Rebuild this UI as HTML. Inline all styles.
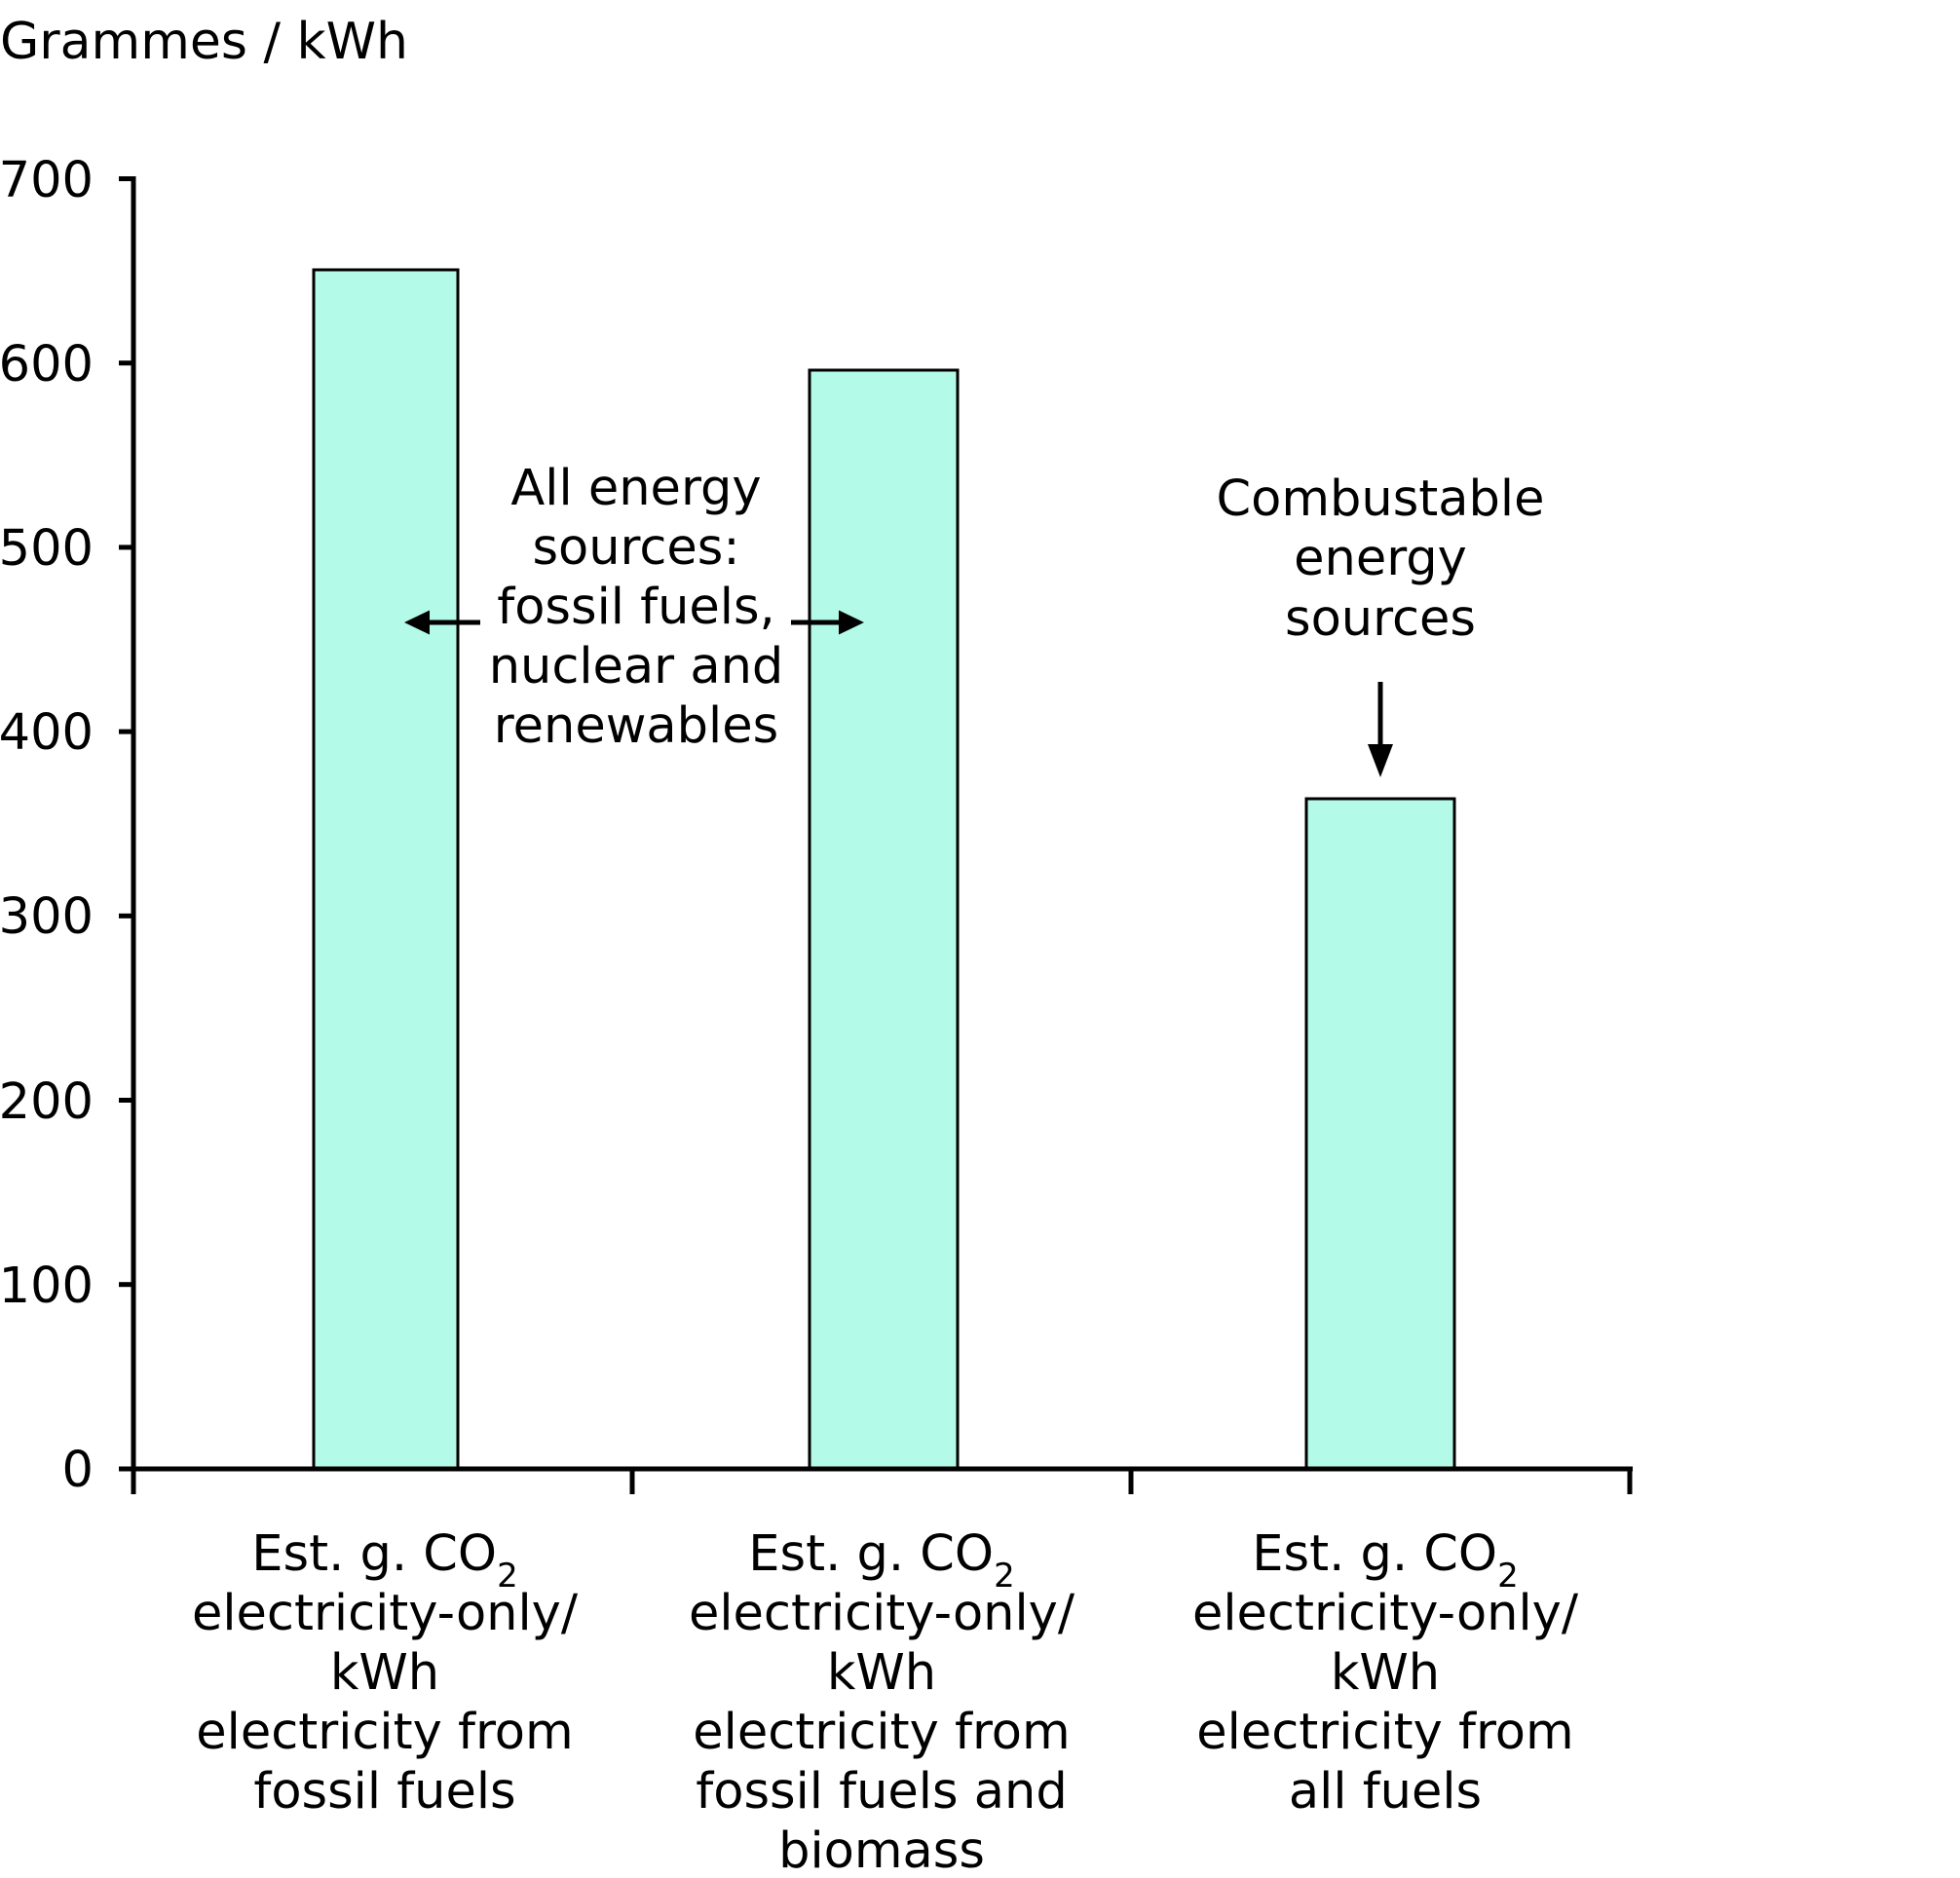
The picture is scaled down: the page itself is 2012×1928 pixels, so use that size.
<!DOCTYPE html>
<html>
<head>
<meta charset="utf-8">
<style>
html,body{margin:0;padding:0;background:#fff;}
svg{display:block;}
text{font-family:"DejaVu Sans","Liberation Sans",sans-serif;fill:#000;}
</style>
</head>
<body>
<svg width="2012" height="1928" viewBox="0 0 2012 1928" xmlns="http://www.w3.org/2000/svg">
<rect x="0" y="0" width="2012" height="1928" fill="#fff"/>
<text x="0" y="60" font-size="52">Grammes / kWh</text>

<!-- bars -->
<rect x="322" y="277" width="148" height="1231" fill="#b3fbe8" stroke="#000" stroke-width="3"/>
<rect x="831" y="380" width="152" height="1128" fill="#b3fbe8" stroke="#000" stroke-width="3"/>
<rect x="1341" y="820" width="152" height="688" fill="#b3fbe8" stroke="#000" stroke-width="3"/>

<!-- y axis -->
<g stroke="#000" stroke-width="5" fill="none">
<line x1="137" y1="181" x2="137" y2="1510"/>
<line x1="122" y1="183.5" x2="137" y2="183.5"/>
<line x1="122" y1="372.7" x2="137" y2="372.7"/>
<line x1="122" y1="561.9" x2="137" y2="561.9"/>
<line x1="122" y1="751.1" x2="137" y2="751.1"/>
<line x1="122" y1="940.3" x2="137" y2="940.3"/>
<line x1="122" y1="1129.5" x2="137" y2="1129.5"/>
<line x1="122" y1="1318.7" x2="137" y2="1318.7"/>
<line x1="122" y1="1508" x2="1676" y2="1508"/>
<line x1="137" y1="1508" x2="137" y2="1534"/>
<line x1="649" y1="1508" x2="649" y2="1534"/>
<line x1="1161" y1="1508" x2="1161" y2="1534"/>
<line x1="1673" y1="1508" x2="1673" y2="1534"/>
</g>

<g font-size="51" text-anchor="end">
<text x="96" y="202">700</text>
<text x="96" y="391">600</text>
<text x="96" y="580">500</text>
<text x="96" y="769">400</text>
<text x="96" y="958">300</text>
<text x="96" y="1148">200</text>
<text x="96" y="1337">100</text>
<text x="96" y="1526">0</text>
</g>

<!-- annotation left -->
<g font-size="51" text-anchor="middle">
<text x="653" y="518">All energy</text>
<text x="653" y="579">sources:</text>
<text x="653" y="640">fossil fuels,</text>
<text x="653" y="701">nuclear and</text>
<text x="653" y="762">renewables</text>
</g>
<g stroke="#000" stroke-width="5">
<line x1="438" y1="639" x2="493" y2="639"/>
<line x1="812" y1="639" x2="864" y2="639"/>
<line x1="1417" y1="700" x2="1417" y2="766"/>
</g>
<polygon points="415,639 441,626.5 441,651.5" fill="#000"/>
<polygon points="887,639 861,626.5 861,651.5" fill="#000"/>
<polygon points="1417,798 1404,764 1430,764" fill="#000"/>

<!-- annotation right -->
<g font-size="51" text-anchor="middle">
<text x="1417" y="529">Combustable</text>
<text x="1417" y="590">energy</text>
<text x="1417" y="652">sources</text>
</g>

<!-- category labels -->
<g font-size="51" text-anchor="middle">
<text x="395" y="1612">Est. g. CO<tspan font-size="34" dy="17">2</tspan></text>
<text x="395" y="1673">electricity-only/</text>
<text x="395" y="1734">kWh</text>
<text x="395" y="1795">electricity from</text>
<text x="395" y="1856">fossil fuels</text>

<text x="905" y="1612">Est. g. CO<tspan font-size="34" dy="17">2</tspan></text>
<text x="905" y="1673">electricity-only/</text>
<text x="905" y="1734">kWh</text>
<text x="905" y="1795">electricity from</text>
<text x="905" y="1856">fossil fuels and</text>
<text x="905" y="1917">biomass</text>

<text x="1422" y="1612">Est. g. CO<tspan font-size="34" dy="17">2</tspan></text>
<text x="1422" y="1673">electricity-only/</text>
<text x="1422" y="1734">kWh</text>
<text x="1422" y="1795">electricity from</text>
<text x="1422" y="1856">all fuels</text>
</g>
</svg>
</body>
</html>
